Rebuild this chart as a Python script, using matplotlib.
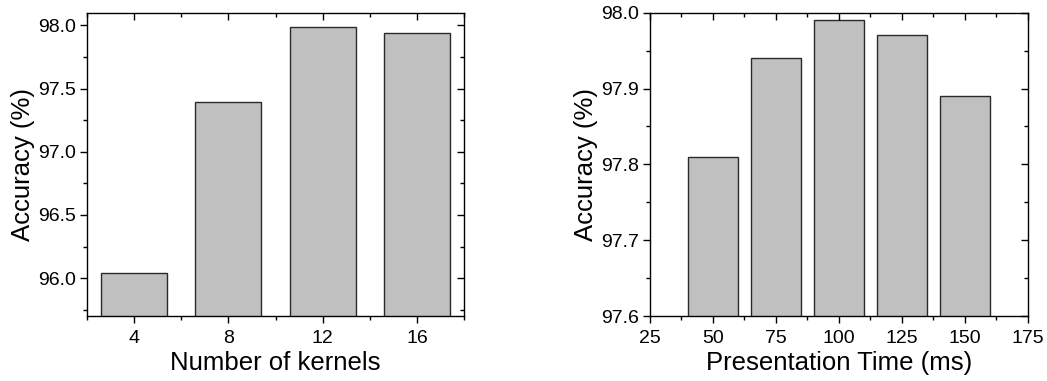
import matplotlib
matplotlib.use("Agg")
import matplotlib.pyplot as plt
from matplotlib.ticker import MultipleLocator, FormatStrFormatter

plt.rcParams['font.family'] = ['Liberation Sans', 'DejaVu Sans']

# kernel count sweep
kernels = [4, 8, 12, 16]
acc_kernels = [96.04, 97.39, 97.99, 97.94]

# presentation time sweep (ms)
pres_time = [50, 75, 100, 125, 150]
acc_time = [97.81, 97.94, 97.99, 97.97, 97.89]

bar_face = '#c0c0c0'
bar_edge = '#2a2a2a'

fig = plt.figure(figsize=(10.47, 3.81), dpi=100)
ax1 = fig.add_axes([0.0831, 0.1706, 0.3601, 0.796])
ax2 = fig.add_axes([0.6208, 0.1706, 0.3608, 0.796])


def style(ax):
  for s in ax.spines.values():
    s.set_linewidth(1.0)
    s.set_color('black')
  ax.tick_params(which='both', labelsize=14, width=1.0)
  ax.tick_params(which='major', length=5)
  ax.tick_params(which='minor', length=3)
  ax.tick_params(axis='x', which='major', pad=5.2)
  ax.tick_params(axis='y', which='major', pad=3)
  ax.tick_params(which='both', bottom=True, left=True, direction='out')
  # inward ticks on top/right, no labels there
  ax.tick_params(which='both', top=True, right=True, labeltop=False, labelright=False)
  for t in ax.xaxis.get_ticklines(minor=False)[1::2] + ax.xaxis.get_ticklines(minor=True)[1::2]:
    t.set_marker(3)
  for t in ax.yaxis.get_ticklines(minor=False)[1::2] + ax.yaxis.get_ticklines(minor=True)[1::2]:
    t.set_marker(0)


ax1.bar(kernels, acc_kernels, width=2.8, color=bar_face, edgecolor=bar_edge, linewidth=1.0)
ax1.set_xlim(2, 18)
ax1.set_ylim(95.7, 98.1)
ax1.xaxis.set_major_locator(MultipleLocator(4))
ax1.xaxis.set_minor_locator(MultipleLocator(2))
ax1.yaxis.set_major_locator(MultipleLocator(0.5))
ax1.yaxis.set_minor_locator(MultipleLocator(0.25))
ax1.yaxis.set_major_formatter(FormatStrFormatter('%.1f'))
ax1.set_xlabel('Number of kernels', fontsize=18.5)
ax1.set_ylabel('Accuracy (%)', fontsize=18.5)

ax2.bar(pres_time, acc_time, width=20, color=bar_face, edgecolor=bar_edge, linewidth=1.0)
ax2.set_xlim(25, 175)
ax2.set_ylim(97.6, 98.0)
ax2.xaxis.set_major_locator(MultipleLocator(25))
ax2.xaxis.set_minor_locator(MultipleLocator(12.5))
ax2.yaxis.set_major_locator(MultipleLocator(0.1))
ax2.yaxis.set_minor_locator(MultipleLocator(0.05))
ax2.yaxis.set_major_formatter(FormatStrFormatter('%.1f'))
ax2.set_xlabel('Presentation Time (ms)', fontsize=18.5)
ax2.set_ylabel('Accuracy (%)', fontsize=18.5)

for ax in (ax1, ax2):
  style(ax)
  ax.xaxis.labelpad = 3
  ax.yaxis.labelpad = 2

fig.savefig('out.png', dpi=100)
